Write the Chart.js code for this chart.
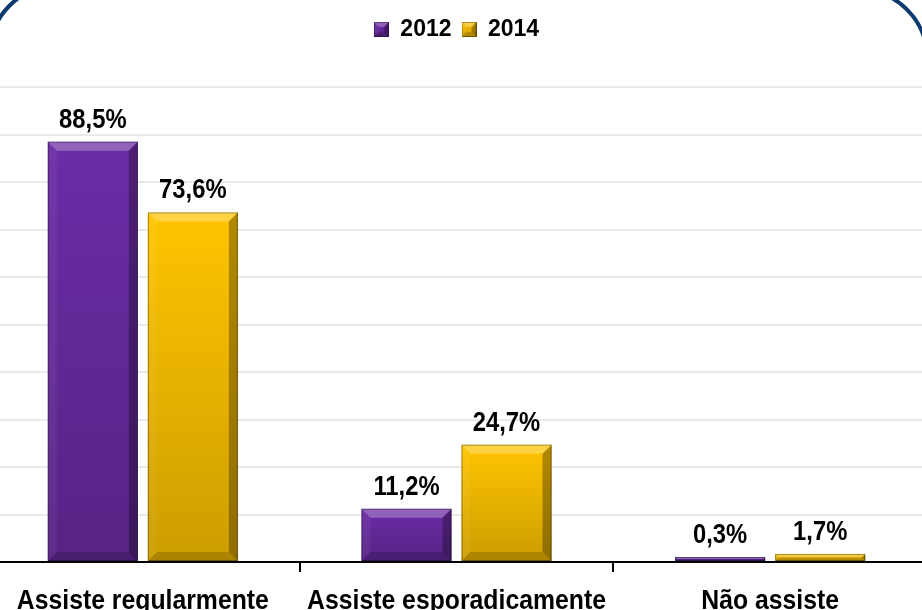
<!DOCTYPE html>
<html>
<head>
<meta charset="utf-8">
<script src="https://cdn.jsdelivr.net/npm/chart.js@4.4.1/dist/chart.umd.min.js"></script>
<style>
  html, body { margin: 0; padding: 0; background: #fff; overflow: hidden; width: 922px; height: 610px; }
  #wrap { position: absolute; left: -14px; top: 0; width: 941px; height: 622px; }
</style>
</head>
<body>
<div id="wrap"><canvas id="chart" width="941" height="622"></canvas></div>
<script>
const categories = ['Assiste regularmente', 'Assiste esporadicamente', 'Não assiste'];
const seriesNames = ['2012', '2014'];
const values2012 = [88.5, 11.2, 0.3];
const values2014 = [73.6, 24.7, 1.7];
const seriesColors = ['#6c2ca6', '#ffc400'];

const regular = '"Liberation Sans", Arial, sans-serif';
const SHIFT = 14; // canvas sits 14px left of the page

function fmt(v) {
  return v.toFixed(1).replace('.', ',') + '%';
}

// condensed bold text (no Arial Narrow here, so squeeze Liberation Sans)
function narrowText(ctx, text, x, y, size, sx) {
  ctx.save();
  ctx.translate(x, y);
  ctx.scale(sx, 1);
  ctx.font = 'bold ' + size + 'px ' + regular;
  ctx.fillStyle = '#000';
  ctx.textAlign = 'center';
  ctx.textBaseline = 'alphabetic';
  ctx.fillText(text, 0, 0);
  ctx.restore();
}

function poly(ctx, pts, fill) {
  ctx.beginPath();
  ctx.moveTo(pts[0][0], pts[0][1]);
  for (let k = 1; k < pts.length; k++) ctx.lineTo(pts[k][0], pts[k][1]);
  ctx.closePath();
  ctx.fillStyle = fill;
  ctx.fill();
}

// bevelled look like the office charts
function bevel(ctx, l, t, r, b, s) {
  const g = ctx.createLinearGradient(0, t, 0, b);
  g.addColorStop(0, 'rgba(0,0,0,0)');
  g.addColorStop(1, 'rgba(0,0,0,0.2)');
  ctx.fillStyle = g;
  ctx.fillRect(l, t, r - l, b - t);
  poly(ctx, [[l, t], [r, t], [r - s, t + s], [l + s, t + s]], 'rgba(255,255,255,0.26)');
  poly(ctx, [[l, t], [l + s, t + s], [l + s, b - s], [l, b]], 'rgba(255,255,255,0.05)');
  poly(ctx, [[r, t], [r, b], [r - s, b - s], [r - s, t + s]], 'rgba(0,0,0,0.30)');
  poly(ctx, [[l, b], [l + s, b - s], [r - s, b - s], [r, b]], 'rgba(0,0,0,0.16)');
  ctx.strokeStyle = 'rgba(0,0,0,0.35)';
  ctx.lineWidth = 1;
  ctx.strokeRect(l + 0.5, t + 0.5, r - l - 1, b - t - 1);
}

function swatch(color) {
  const c = document.createElement('canvas');
  c.width = 15; c.height = 15;
  const x = c.getContext('2d');
  x.fillStyle = color;
  x.fillRect(0, 0, 15, 15);
  bevel(x, 0, 0, 15, 15, 5);
  return c;
}

const barDecor = {
  id: 'barDecor',
  afterDatasetsDraw(chart) {
    const ctx = chart.ctx;
    chart.data.datasets.forEach((ds, i) => {
      const meta = chart.getDatasetMeta(i);
      meta.data.forEach((bar, j) => {
        const l = bar.x - bar.width / 2, r = bar.x + bar.width / 2;
        const t = bar.y, b = bar.base;
        const s = Math.min(9, (b - t) / 2);
        ctx.save();
        bevel(ctx, l, t, r, b, s);
        ctx.restore();
        narrowText(ctx, fmt(ds.data[j]), bar.x, t - 14, 28, 0.85);
      });
    });
  },
  afterDraw(chart) {
    const ctx = chart.ctx;
    const xs = chart.scales.x;
    categories.forEach((c, i) => {
      narrowText(ctx, c, xs.getPixelForTick(i), 609, 28, 0.885);
    });
    // rounded navy frame around the slide box
    ctx.save();
    ctx.strokeStyle = '#0b3a6c';
    ctx.lineWidth = 4;
    ctx.beginPath();
    ctx.moveTo(-10.5 + SHIFT, 700);
    ctx.lineTo(-10.5 + SHIFT, 53.8);
    ctx.arc(57.5 + SHIFT, 53.8, 68, Math.PI, 1.5 * Math.PI);
    ctx.lineTo(859 + SHIFT, -10.3);
    ctx.arc(859 + SHIFT, 57.7, 68, 1.5 * Math.PI, 2 * Math.PI);
    ctx.lineTo(927 + SHIFT, 700);
    ctx.stroke();
    ctx.restore();
  }
};

const legendSpace = {
  id: 'legendSpace',
  beforeInit(chart) {
    const fit = chart.legend.fit;
    chart.legend.fit = function () {
      fit.call(this);
      this.height += 36;
    };
  }
};

new Chart(document.getElementById('chart'), {
  type: 'bar',
  data: {
    labels: categories,
    datasets: [
      { label: seriesNames[0], data: values2012, backgroundColor: seriesColors[0],
        categoryPercentage: 0.638, barPercentage: 0.9, minBarLength: 5 },
      { label: seriesNames[1], data: values2014, backgroundColor: seriesColors[1],
        categoryPercentage: 0.638, barPercentage: 0.9, minBarLength: 5 }
    ]
  },
  options: {
    responsive: false,
    animation: false,
    devicePixelRatio: 1,
    layout: { padding: { top: 8, left: 0, right: 0, bottom: 0 } },
    plugins: {
      tooltip: { enabled: false },
      legend: {
        position: 'top',
        labels: {
          usePointStyle: true,
          boxWidth: 15,
          boxHeight: 15,
          padding: 10,
          color: '#000',
          font: { family: regular, size: 23, weight: 'bold' },
          generateLabels(chart) {
            const items = Chart.defaults.plugins.legend.labels.generateLabels(chart);
            items.forEach((it, k) => { it.pointStyle = swatch(seriesColors[k]); });
            return items;
          }
        }
      }
    },
    scales: {
      x: {
        offset: true,
        grid: { offset: true, drawOnChartArea: false, color: '#000', lineWidth: 2, tickLength: 10 },
        border: { color: '#000', width: 2 },
        ticks: { display: false },
        afterFit(scale) { scale.height = 60; }
      },
      y: {
        min: 0,
        max: 100,
        ticks: { display: false, stepSize: 10 },
        grid: { color: '#e9e9e9', lineWidth: 2, drawTicks: false },
        border: { display: false },
        afterFit(scale) { scale.width = 0; }
      }
    }
  },
  plugins: [barDecor, legendSpace]
});
</script>
</body>
</html>
